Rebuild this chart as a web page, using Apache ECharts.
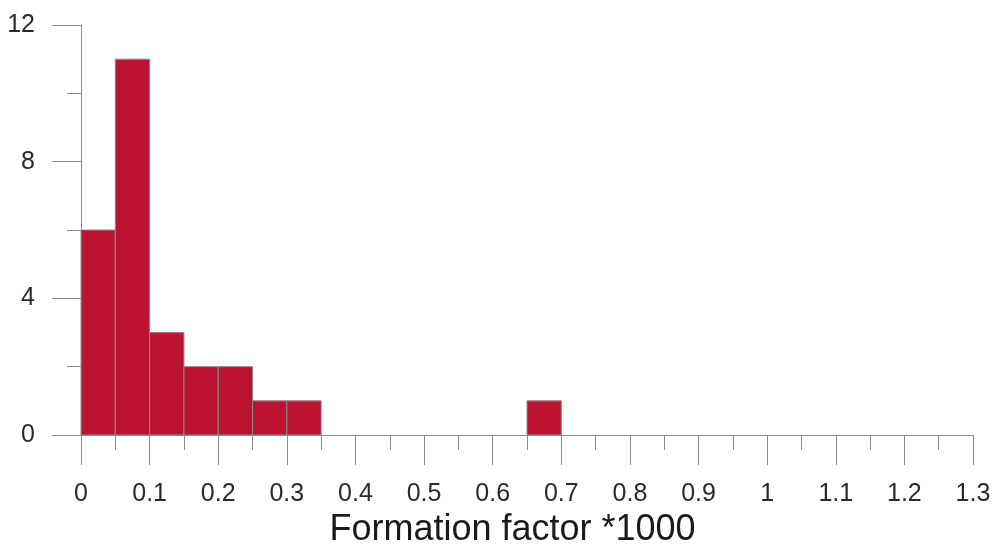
<!DOCTYPE html>
<html>
<head>
<meta charset="utf-8">
<script src="https://cdn.jsdelivr.net/npm/echarts@6/dist/echarts.min.js"></script>
<style>
  html, body { margin: 0; padding: 0; background: #fff; }
  #main { width: 994px; height: 545px; }
</style>
</head>
<body>
<div id="main"></div>
<script>
// histogram bins (lower edge), width 0.05
var binStarts = [0, 0.05, 0.10, 0.15, 0.20, 0.25, 0.30, 0.65];
var binCounts = [6, 11, 3, 2, 2, 1, 1, 1];
var binWidth = 0.05;
var yTicks = [0, 4, 8, 12];

var chart = echarts.init(document.getElementById('main'));

var data = binStarts.map(function (s, i) { return [s, s + binWidth, binCounts[i]]; });

var option = {
    animation: false,
    grid: { left: 81, right: 21, top: 25, bottom: 110, outerBoundsMode: 'none', containLabel: false },
    xAxis: {
        type: 'value',
        min: 0,
        max: 1.3,
        interval: 0.1,
        name: 'Formation factor *1000',
        nameLocation: 'middle',
        nameGap: 73,
        nameTextStyle: { fontFamily: 'Liberation Sans', fontSize: 36, color: '#1a1a1a', padding: [0, 29, 0, 0] },
        axisLine: { lineStyle: { color: '#8c8c8c', width: 1 } },
        axisTick: { length: 30, lineStyle: { color: '#8c8c8c' } },
        minorTick: { show: true, splitNumber: 2, length: 15, lineStyle: { color: '#8c8c8c' } },
        axisLabel: {
            margin: 47,
            fontFamily: 'Liberation Sans',
            fontSize: 25,
            color: '#2a2a2a',
            formatter: function (v) { return String(Math.round(v * 10) / 10); }
        },
        splitLine: { show: false }
    },
    yAxis: {
        type: 'value',
        min: yTicks[0],
        max: yTicks[yTicks.length - 1],
        interval: 4,
        axisLine: { show: true, lineStyle: { color: '#8c8c8c' } },
        axisTick: { show: true, length: 29, lineStyle: { color: '#8c8c8c' } },
        minorTick: { show: true, splitNumber: 2, length: 14, lineStyle: { color: '#8c8c8c' } },
        axisLabel: { margin: 46, fontFamily: 'Liberation Sans', fontSize: 25, color: '#2a2a2a' },
        splitLine: { show: false }
    },
    series: [{
        type: 'custom',
        data: data,
        renderItem: function (params, api) {
            var p0 = api.coord([api.value(0), api.value(2)]);
            var p1 = api.coord([api.value(1), 0]);
            return {
                type: 'rect',
                shape: { x: p0[0], y: p0[1], width: p1[0] - p0[0], height: p1[1] - p0[1] },
                style: { fill: '#bc1430', stroke: '#8a8a8a', lineWidth: 1 }
            };
        },
        encode: { x: [0, 1], y: 2 }
    }]
};

chart.setOption(option);
</script>
</body>
</html>
